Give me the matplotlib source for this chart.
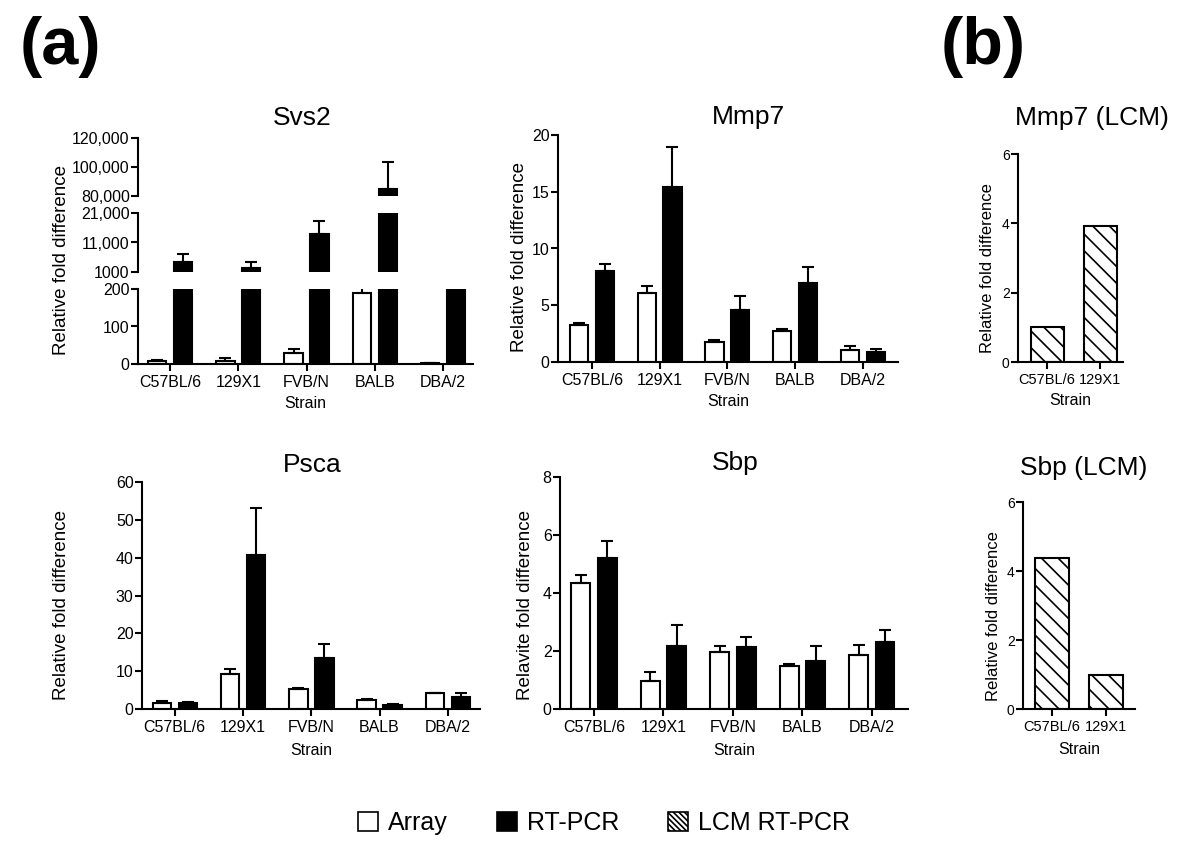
import numpy as np
import matplotlib
matplotlib.use('Agg')
import matplotlib.pyplot as plt
from matplotlib.patches import Patch

plt.rcParams['font.family'] = ['Liberation Sans', 'DejaVu Sans']
plt.rcParams['hatch.linewidth'] = 1.2
plt.rcParams['hatch.color'] = 'black'

# ---- data ----
strains = ['C57BL/6', '129X1', 'FVB/N', 'BALB', 'DBA/2']
lcm_strains = ['C57BL/6', '129X1']

svs2_array = [7, 8, 30, 190, 2]
svs2_array_err = [3, 7, 10, 15, 1]
svs2_pcr = [4400, 2400, 13900, 84800, 500]
svs2_pcr_err = [2700, 2000, 4400, 18600, 0]

mmp7_array = [3.3, 6.1, 1.75, 2.7, 1.1]
mmp7_array_err = [0.15, 0.6, 0.2, 0.2, 0.3]
mmp7_pcr = [8.0, 15.4, 4.6, 7.0, 0.85]
mmp7_pcr_err = [0.6, 3.5, 1.25, 1.35, 0.3]

psca_array = [1.6, 9.2, 5.4, 2.5, 4.2]
psca_array_err = [0.4, 1.4, 0.15, 0.1, 0.1]
psca_pcr = [1.7, 40.7, 13.5, 1.0, 3.2]
psca_pcr_err = [0.2, 12.4, 3.6, 0.2, 0.9]

sbp_array = [4.33, 0.95, 1.98, 1.47, 1.87]
sbp_array_err = [0.29, 0.32, 0.19, 0.09, 0.33]
sbp_pcr = [5.21, 2.18, 2.13, 1.64, 2.32]
sbp_pcr_err = [0.58, 0.72, 0.35, 0.54, 0.41]

mmp7_lcm = [1.0, 3.93]
sbp_lcm = [4.37, 1.0]

# ---- layout helpers (pixel coords of a 1200x855 canvas) ----
W, H = 1200, 855
OFFSET = 0.19
BAR_W = 0.27
LW = 1.5

fig = plt.figure(figsize=(W / 100, H / 100), dpi=100)


def px_axes(left, top, right, bottom):
    return fig.add_axes([left / W, 1 - bottom / H, (right - left) / W, (bottom - top) / H])


def style(ax, show_x=True, ytick_size=11.5, xtick_size=11.5):
    for side in ['top', 'right']:
        ax.spines[side].set_visible(False)
    ax.spines['left'].set_linewidth(LW)
    ax.spines['bottom'].set_linewidth(LW)
    ax.tick_params(direction='out', length=5, width=LW, labelsize=ytick_size, pad=1)
    ax.tick_params(axis='x', labelsize=xtick_size, pad=3)
    if not show_x:
        ax.spines['bottom'].set_visible(False)
        ax.tick_params(axis='x', bottom=False, labelbottom=False)
    ax.set_facecolor('none')


def errbars(ax, x, vals, errs, ylim, z):
    # only where the bar top lies inside this axis piece
    keep = [i for i, v in enumerate(vals) if ylim is None or ylim[0] <= v <= ylim[1]]
    if not keep:
        return
    v = np.array(vals, dtype=float)[keep]
    e = np.array(errs, dtype=float)[keep]
    ax.errorbar(np.asarray(x)[keep], v, yerr=[np.zeros(len(v)), e], fmt='none',
                ecolor='black', elinewidth=LW, capsize=4, capthick=LW, zorder=z)


def visible(vals, ylim):
    # bars that end below this axis piece are left out (avoids edge slivers)
    if ylim is None:
        return vals
    return [v if v >= ylim[0] else 0 for v in vals]


def draw_pairs(ax, arr, arr_err, pcr, pcr_err, ylim=None):
    x = np.arange(len(arr))
    ax.bar(x - OFFSET, visible(arr, ylim), BAR_W, color='white', edgecolor='black',
           linewidth=LW, zorder=2)
    ax.bar(x + OFFSET, visible(pcr, ylim), BAR_W, color='black', edgecolor='black',
           linewidth=LW, zorder=2)
    errbars(ax, x - OFFSET, arr, arr_err, ylim, 3)
    errbars(ax, x + OFFSET, pcr, pcr_err, ylim, 1)


def finish_x(ax, labels, xlim, pad=4):
    ax.set_xticks(np.arange(len(labels)))
    ax.set_xticklabels(labels)
    ax.set_xlim(*xlim)
    ax.set_xlabel('Strain', fontsize=11.5, labelpad=pad)


# ---- (a) Svs2, broken y axis in three pieces ----
svs2_x = (-0.47, 4.44)
ax_top = px_axes(138, 138, 473, 196)
ax_mid = px_axes(138, 213, 473, 272)
ax_bot = px_axes(138, 289, 473, 364)
for ax, lim, ticks, labels in [
        (ax_top, (80000, 120000), [80000, 100000, 120000], ['80,000', '100,000', '120,000']),
        (ax_mid, (1000, 21000), [1000, 11000, 21000], ['1000', '11,000', '21,000']),
        (ax_bot, (0, 200), [0, 100, 200], ['0', '100', '200'])]:
    draw_pairs(ax, svs2_array, svs2_array_err, svs2_pcr, svs2_pcr_err,
               ylim=None if ax is ax_bot else lim)
    ax.set_ylim(*lim)
    ax.set_yticks(ticks)
    ax.set_yticklabels(labels)
    ax.set_xlim(*svs2_x)
    style(ax, show_x=(ax is ax_bot))
finish_x(ax_bot, strains, svs2_x)
fig.text(302 / W, 1 - 118 / H, 'Svs2', fontsize=19, ha='center', va='center')
fig.text(62 / W, 1 - 260 / H, 'Relative fold difference', fontsize=13.5,
         rotation=90, ha='center', va='center')

# ---- (a) Mmp7 ----
ax = px_axes(558, 135, 898, 362)
draw_pairs(ax, mmp7_array, mmp7_array_err, mmp7_pcr, mmp7_pcr_err)
ax.set_ylim(0, 20)
ax.set_yticks([0, 5, 10, 15, 20])
style(ax)
finish_x(ax, strains, (-0.5, 4.52))
fig.text(748 / W, 1 - 117 / H, 'Mmp7', fontsize=19, ha='center', va='center')
fig.text(520 / W, 1 - 257 / H, 'Relative fold difference', fontsize=13.5,
         rotation=90, ha='center', va='center')

# ---- (a) Psca ----
ax = px_axes(142, 482, 480, 709)
draw_pairs(ax, psca_array, psca_array_err, psca_pcr, psca_pcr_err)
ax.set_ylim(0, 60)
ax.set_yticks(np.arange(0, 61, 10))
style(ax)
finish_x(ax, strains, (-0.48, 4.47), pad=6)
fig.text(312 / W, 1 - 465 / H, 'Psca', fontsize=19, ha='center', va='center')
fig.text(62 / W, 1 - 605 / H, 'Relative fold difference', fontsize=13.5,
         rotation=90, ha='center', va='center')

# ---- (a) Sbp ----
ax = px_axes(560, 477, 908, 709)
draw_pairs(ax, sbp_array, sbp_array_err, sbp_pcr, sbp_pcr_err)
ax.set_ylim(0, 8)
ax.set_yticks([0, 2, 4, 6, 8])
style(ax)
finish_x(ax, strains, (-0.49, 4.52), pad=6)
fig.text(735 / W, 1 - 463 / H, 'Sbp', fontsize=19, ha='center', va='center')
fig.text(525 / W, 1 - 605 / H, 'Relavite fold difference', fontsize=13.5,
         rotation=90, ha='center', va='center')

# ---- (b) LCM panels ----
for box, vals, title, title_xy, ylab_xy, xlim, pad in [
        ((1018, 154, 1123, 362), mmp7_lcm, 'Mmp7 (LCM)', (1092, 118), (988, 268), (-0.55, 1.43), 4),
        ((1023, 502, 1135, 709), sbp_lcm, 'Sbp (LCM)', (1084, 468), (994, 616), (-0.52, 1.52), 6)]:
    ax = px_axes(*box)
    ax.bar(np.arange(len(vals)), vals, 0.62, color='white', edgecolor='black',
           linewidth=LW, hatch='\\\\')
    ax.set_ylim(0, 6)
    ax.set_yticks([0, 2, 4, 6])
    style(ax, ytick_size=10, xtick_size=10.5)
    finish_x(ax, lcm_strains, xlim, pad=pad)
    fig.text(title_xy[0] / W, 1 - title_xy[1] / H, title, fontsize=19, ha='center', va='center')
    fig.text(ylab_xy[0] / W, 1 - ylab_xy[1] / H, 'Relative fold difference', fontsize=12,
             rotation=90, ha='center', va='center')

# panel letters
fig.text(60 / W, 1 - 47 / H, '(a)', fontsize=48, fontweight='bold', ha='center', va='center')
fig.text(983 / W, 1 - 47 / H, '(b)', fontsize=48, fontweight='bold', ha='center', va='center')

# shared legend
handles = [Patch(facecolor='white', edgecolor='black', linewidth=1.2),
           Patch(facecolor='black', edgecolor='black', linewidth=1.2),
           Patch(facecolor='white', edgecolor='black', linewidth=1.2, hatch='\\\\\\\\\\\\')]
fig.legend(handles, ['Array', 'RT-PCR', 'LCM RT-PCR'], loc='center',
           bbox_to_anchor=(604 / W, 1 - 823 / H), ncol=3, frameon=False, fontsize=18,
           handlelength=0.8, handleheight=0.8, handletextpad=0.4, columnspacing=1.95)

fig.savefig('out.png', dpi=100)
